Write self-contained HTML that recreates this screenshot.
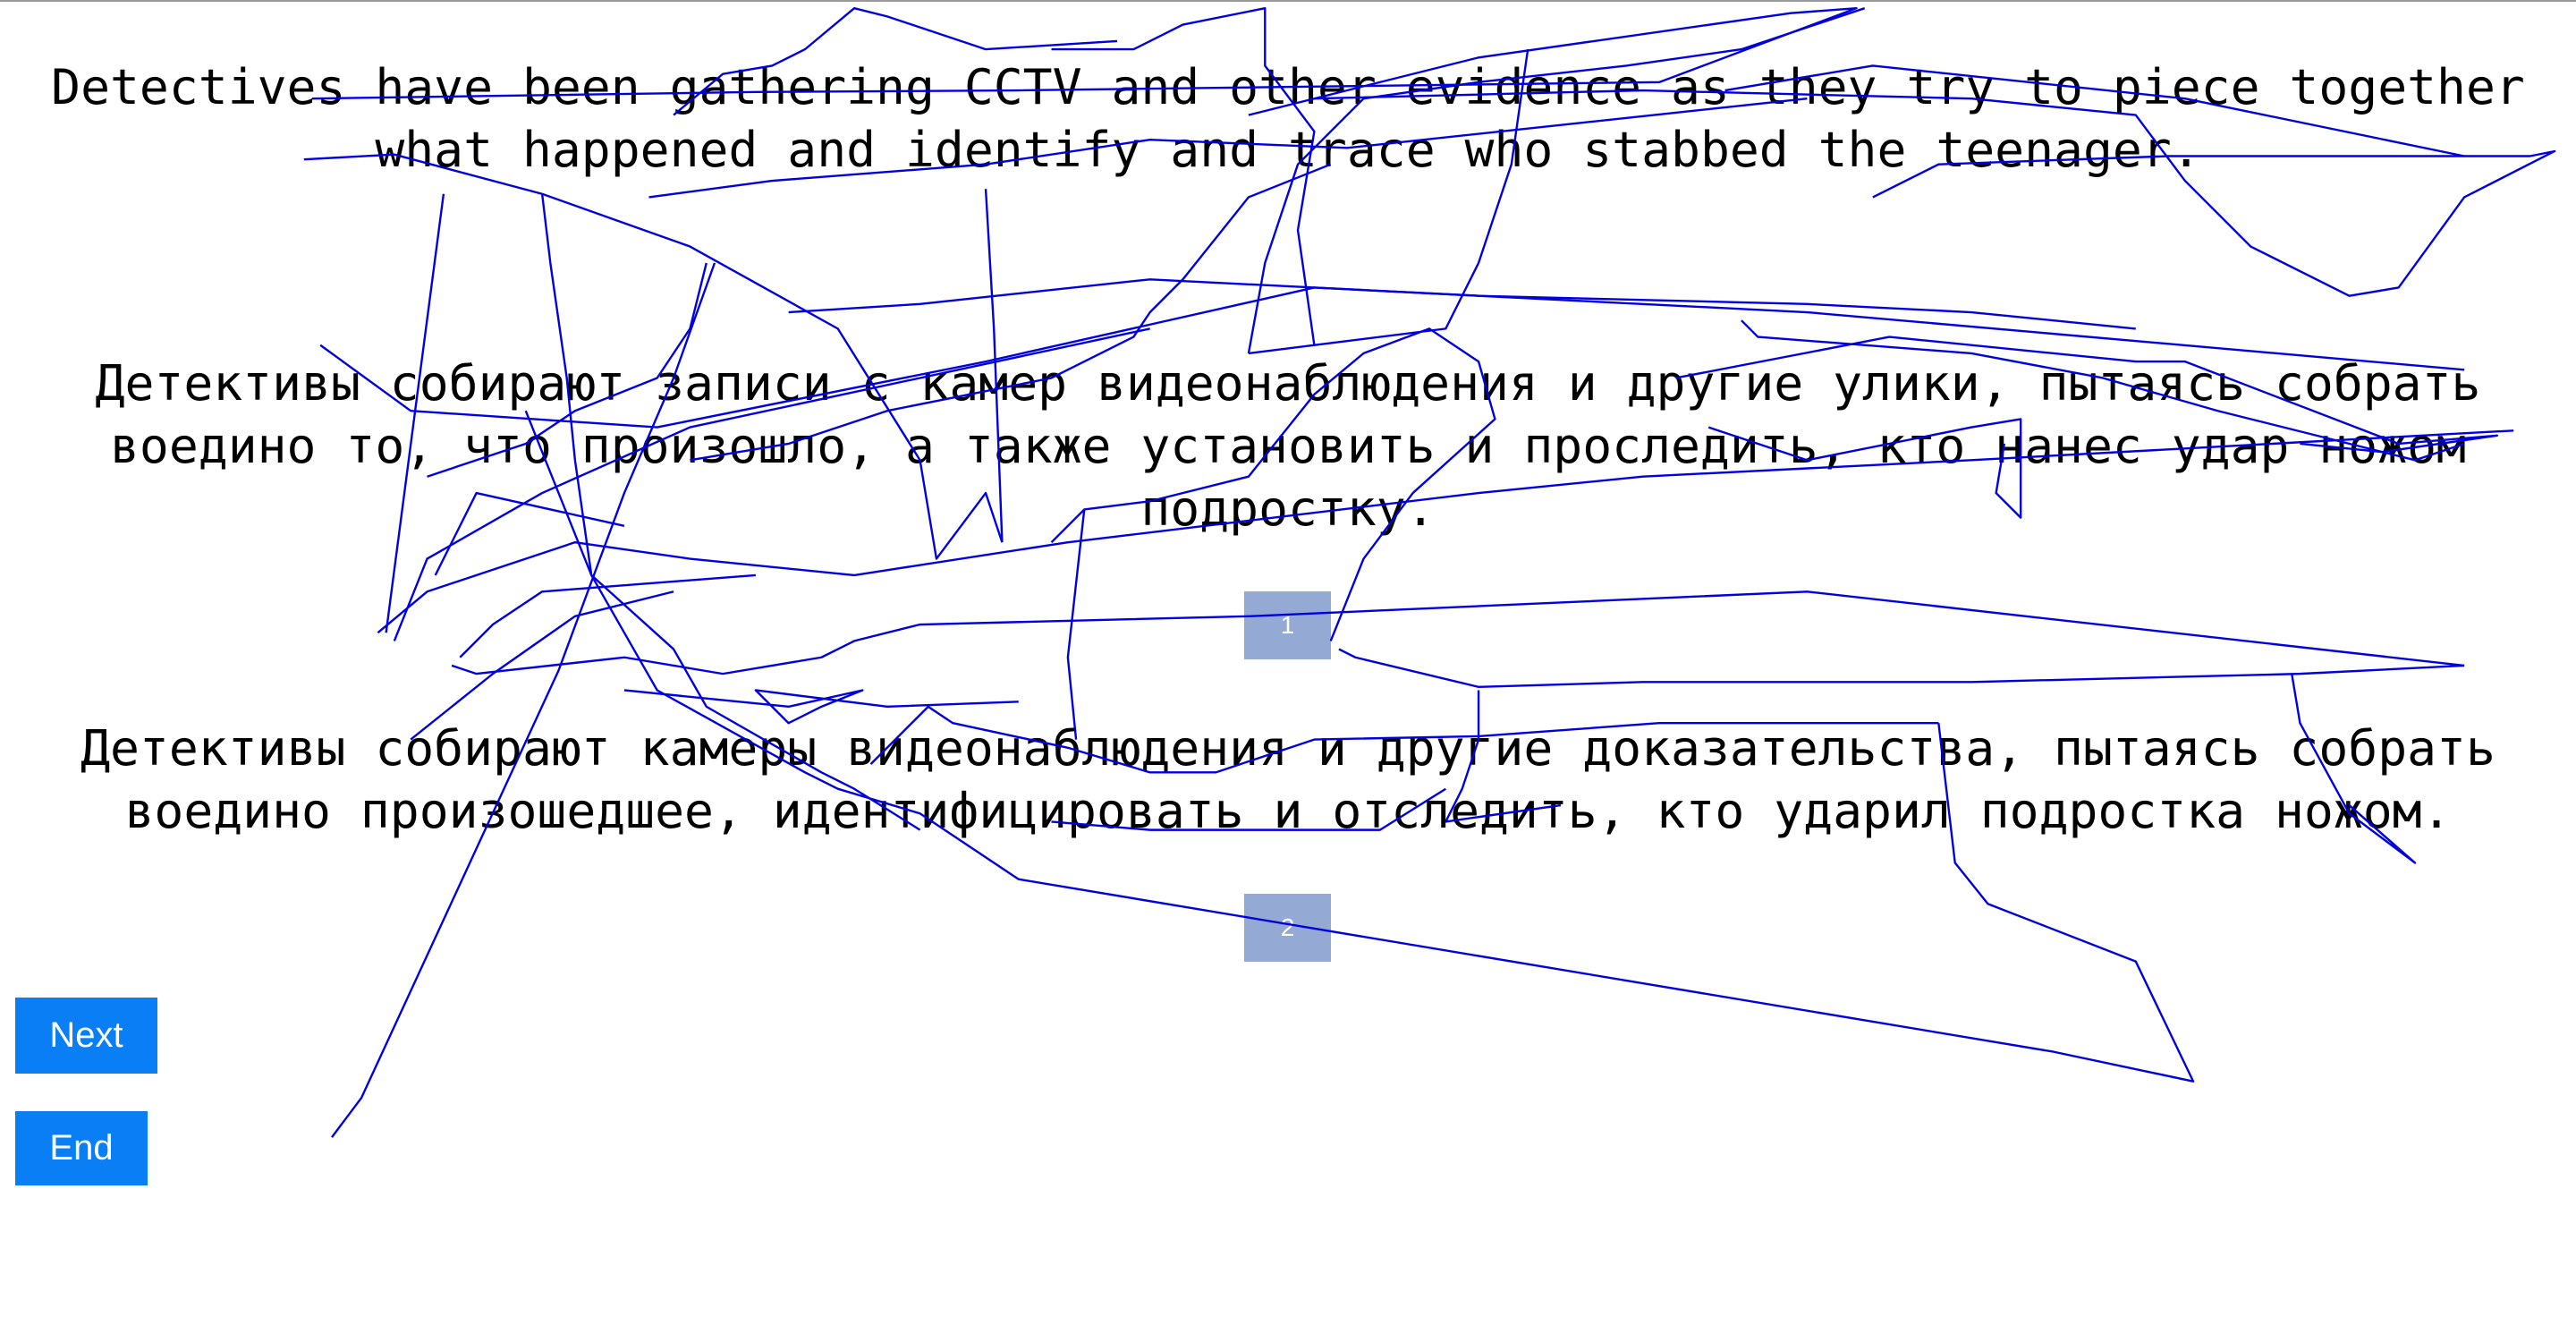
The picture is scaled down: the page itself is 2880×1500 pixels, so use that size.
<!DOCTYPE html>
<html><head><meta charset="utf-8"><style>
html,body{margin:0;padding:0;width:2880px;height:1500px;background:#fff;overflow:hidden;position:relative}
.t{position:absolute;left:0;width:2880px;text-align:center;font-family:"DejaVu Sans Mono","Liberation Mono",monospace;font-size:54.7px;line-height:70px;color:#000;white-space:pre}
.box{position:absolute;left:1391px;width:97px;height:76px;background:#94a9d4;color:#fff;font-family:"Liberation Sans",sans-serif;font-size:28px;display:flex;align-items:center;justify-content:center}
.btn{position:absolute;left:17px;background:#0a7ff5;color:#fff;font-family:"Liberation Sans",sans-serif;font-size:40px;display:flex;align-items:center;justify-content:center}
#top{position:absolute;left:0;top:0;width:2880px;height:2px;background:#999}
svg{position:absolute;left:0;top:0}
</style></head><body>
<div id="top"></div>
<div class="t" style="top:62px">Detectives have been gathering CCTV and other evidence as they try to piece together</div>
<div class="t" style="top:132px">what happened and identify and trace who stabbed the teenager.</div>
<div class="t" style="top:393px">Детективы собирают записи с камер видеонаблюдения и другие улики, пытаясь собрать</div>
<div class="t" style="top:463px">воедино то, что произошло, а также установить и проследить, кто нанес удар ножом</div>
<div class="t" style="top:533px">подростку.</div>
<div class="box" style="top:661px">1</div>
<div class="t" style="top:801px">Детективы собирают камеры видеонаблюдения и другие доказательства, пытаясь собрать</div>
<div class="t" style="top:871px">воедино произошедшее, идентифицировать и отследить, кто ударил подростка ножом.</div>
<div class="box" style="top:999px">2</div>
<div class="btn" style="top:1115px;width:159px;height:85px">Next</div>
<div class="btn" style="top:1242px;width:148px;height:83px">End</div>
<svg width="2880" height="1500" viewBox="0 0 1568 816.6" preserveAspectRatio="none" fill="none" stroke="#0000e0" stroke-width="1.3" stroke-linejoin="round">
<polyline points="202,692 220,668 340,408 380,300 410,230 435,160"/>
<polyline points="190,60 460,56 620,55 1010,50 1130,5 1090,8 900,35 760,70"/>
<polyline points="185,97 240,94 330,118 420,150 510,200 560,280 570,340 600,300 610,330"/>
<polyline points="270,118 235,385"/>
<polyline points="240,390 260,340 330,300 420,260 700,200"/>
<polyline points="230,385 260,360 350,330 420,340 520,350 650,330 900,300 1000,290 1200,280 1530,262"/>
<polyline points="195,210 250,250 400,260 600,220 800,175 1100,190 1500,225"/>
<polyline points="330,118 335,160 345,230 350,280 360,350 410,395 430,430 500,470 520,480 560,505"/>
<polyline points="265,350 290,300 380,320"/>
<polyline points="280,400 300,380 330,360 460,350"/>
<polyline points="275,405 290,410 380,400 440,410 500,400 520,390 560,380 760,375 1100,360 1500,405"/>
<polyline points="1500,405 1400,410 1200,415 1000,415 900,418 825,400 815,395"/>
<polyline points="1395,410 1400,440 1430,495 1470,525 1430,490"/>
<polyline points="1180,440 1190,525 1210,550 1300,585 1335,658 1250,640 620,535 560,495 510,480 490,470 400,420 360,350 340,300 320,250"/>
<polyline points="380,420 480,430 525,420 500,430 480,440 460,420 540,430 620,427"/>
<polyline points="250,450 300,410 350,375 410,360"/>
<polyline points="530,465 565,430 580,440 650,455 700,470 740,470 800,450 900,448 1010,440 1180,440"/>
<polyline points="900,420 900,450 890,480 880,500 950,490"/>
<polyline points="640,500 700,505 840,505 880,480"/>
<polyline points="1020,230 1150,205 1300,220 1330,220 1460,270 1520,265 1450,275 1400,270"/>
<polyline points="1040,260 1100,280 1200,260 1230,255 1230,315 1215,300 1220,270"/>
<polyline points="1140,120 1180,100 1320,95 1540,95 1555,92 1500,120 1460,175 1430,180 1370,150 1330,110 1300,70 1200,60 1000,55 800,60"/>
<polyline points="1050,55 1140,40 1330,60 1500,95"/>
<polyline points="760,215 770,160 790,100 830,60 900,50 990,40 1060,30 1135,5"/>
<polyline points="800,210 790,140 800,80 770,40 770,5 720,15 690,30 640,30"/>
<polyline points="760,215 880,200 900,160 920,100 930,30"/>
<polyline points="410,70 440,45 470,40 490,30 520,5 540,10 600,30 680,25"/>
<polyline points="395,120 470,110 600,100 700,85 820,90 1100,60"/>
<polyline points="600,115 605,200 610,330"/>
<polyline points="430,160 420,200 400,230 350,250 320,270 260,290"/>
<polyline points="420,280 480,270 540,250 640,230 690,205 700,190 720,170 760,120 810,100"/>
<polyline points="480,190 560,185 700,170 900,180 1100,185 1200,190 1300,200"/>
<polyline points="640,330 660,310 700,305 760,290 800,240 830,215 870,200 900,220 910,255 860,300 830,340 810,390"/>
<polyline points="660,310 650,400 655,450"/>
<polyline points="1060,195 1070,205 1200,215 1280,230 1350,250 1470,280 1500,270"/>
</svg>
</body></html>
